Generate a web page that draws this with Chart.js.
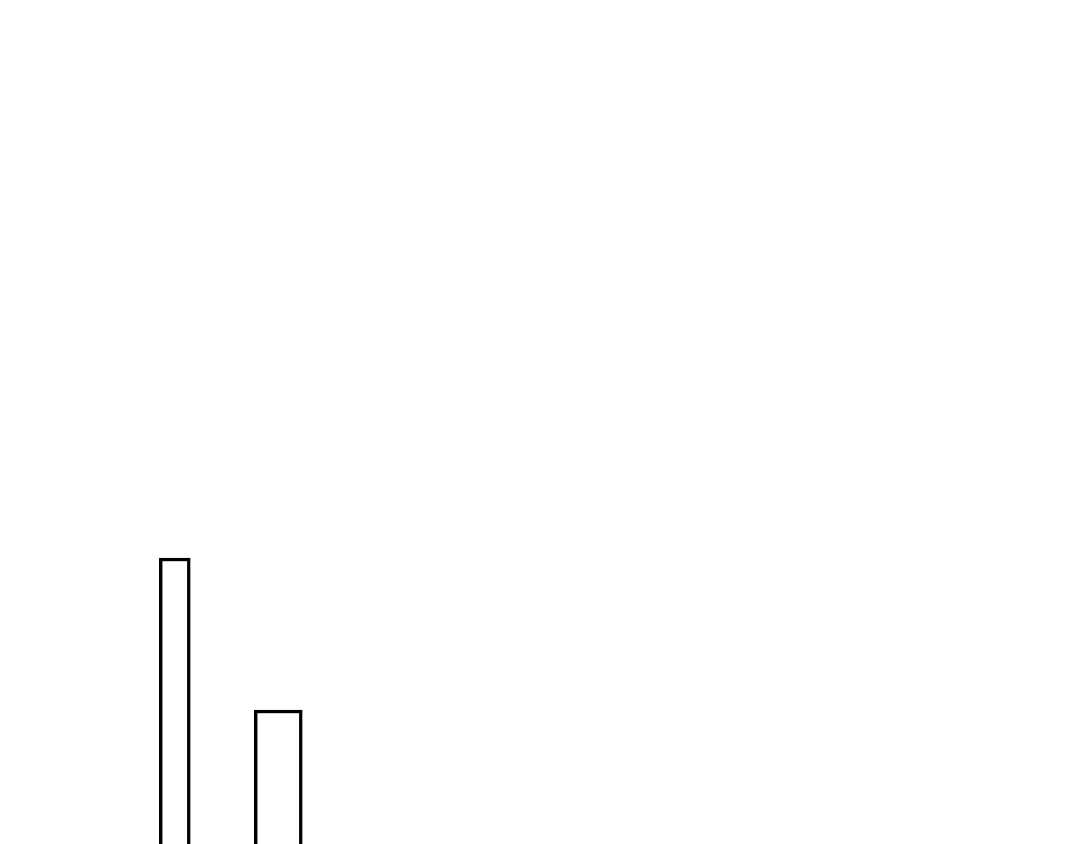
<!DOCTYPE html>
<html>
<head>
<meta charset="utf-8">
<script src="https://cdn.jsdelivr.net/npm/chart.js@4.4.0/dist/chart.umd.min.js"></script>
<style>
    html, body { margin: 0; padding: 0; background: #ffffff; overflow: hidden; }
    #wrap { width: 1080px; height: 1000px; position: relative; }
</style>
</head>
<body>
<div id="wrap"><canvas id="chart"></canvas></div>
<script>
// chart values
const categories = ['A', 'B'];
const firstValues = [44.2, null];
const secondValues = [null, 29];

const ctx = document.getElementById('chart').getContext('2d');
new Chart(ctx, {
    type: 'bar',
    data: {
        labels: categories,
        datasets: [
            {
                data: firstValues,
                backgroundColor: '#ffffff',
                borderColor: '#000000',
                borderWidth: 3.5,
                barThickness: 31
            },
            {
                data: secondValues,
                backgroundColor: '#ffffff',
                borderColor: '#000000',
                borderWidth: 3.5,
                barThickness: 48
            }
        ]
    },
    options: {
        responsive: true,
        maintainAspectRatio: false,
        animation: false,
        layout: {
            padding: { left: 123, right: 750, top: 0, bottom: 0 }
        },
        plugins: {
            legend: { display: false },
            tooltip: { enabled: false }
        },
        datasets: {
            bar: { grouped: false }
        },
        scales: {
            x: { display: false, offset: true },
            y: { display: false, min: 0, max: 100 }
        }
    }
});
</script>
</body>
</html>
